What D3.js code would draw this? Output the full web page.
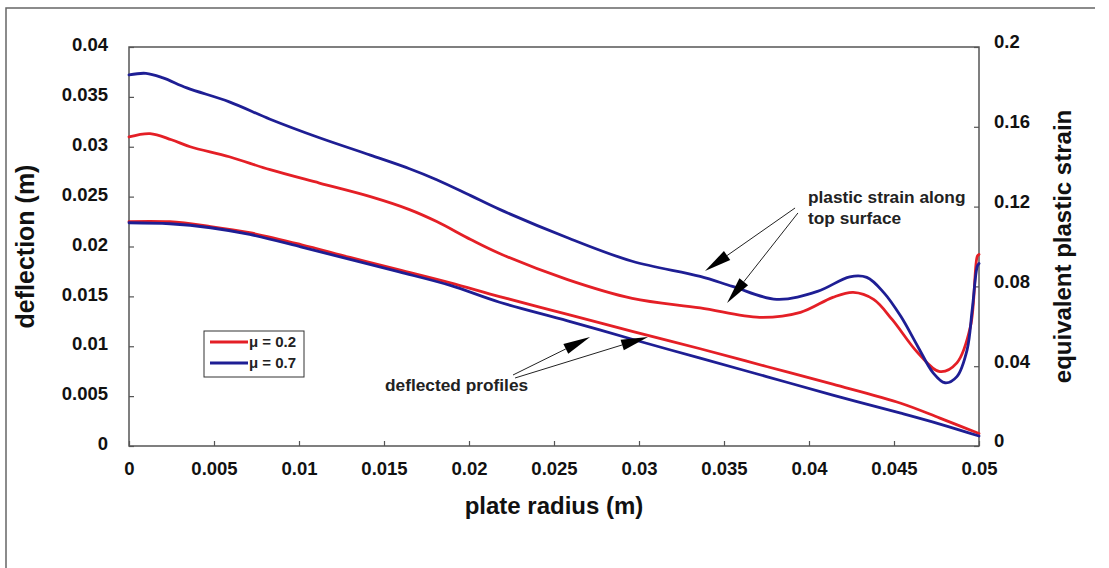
<!DOCTYPE html>
<html>
<head>
<meta charset="utf-8">
<script src="https://cdn.jsdelivr.net/npm/d3@7"></script>
<style>
  html, body { margin: 0; padding: 0; background: #ffffff; }
  svg { display: block; font-family: "Liberation Sans", Arial, Helvetica, sans-serif; }
</style>
</head>
<body>
<svg id="chart" width="1109" height="568"></svg>
<script>
// ---------------- data ----------------
const seriesNames = ["μ = 0.2", "μ = 0.7"];
const seriesColors = ["#e41f26", "#1e1e94"];

// deflected profiles (left axis, m) : [plate radius (m), deflection (m)]
const deflectionMu02 = [
  [0, 0.0225], [0.0024, 0.02248], [0.0048, 0.0220], [0.0071, 0.02138], [0.0101, 0.0202],
  [0.013, 0.0189], [0.0159, 0.01765], [0.0189, 0.01635], [0.0218, 0.01498], [0.0258, 0.0132],
  [0.0296, 0.0115], [0.0336, 0.00975], [0.0375, 0.00797], [0.0414, 0.0062], [0.0454, 0.00429],
  [0.0477, 0.0028], [0.05, 0.00125]
];
const deflectionMu07 = [
  [0, 0.02238], [0.0024, 0.02228], [0.0048, 0.02188], [0.0071, 0.02121], [0.0101, 0.01997],
  [0.013, 0.0187], [0.0159, 0.01745], [0.0189, 0.0161], [0.0218, 0.01441], [0.0258, 0.01255],
  [0.0296, 0.0107], [0.0336, 0.0088], [0.0375, 0.00696], [0.0414, 0.0051], [0.0454, 0.00329],
  [0.0477, 0.0022], [0.05, 0.0010]
];

// equivalent plastic strain along top surface (right axis) : [plate radius (m), strain]
const strainMu02 = [
  [0, 0.1549], [0.00124, 0.1566], [0.0025, 0.1535], [0.0036, 0.1500], [0.0059, 0.1450],
  [0.0083, 0.1385], [0.0112, 0.1318], [0.0142, 0.1250], [0.0165, 0.1185], [0.0181, 0.1125],
  [0.0201, 0.1035], [0.0218, 0.0965], [0.0258, 0.0834], [0.0296, 0.0740], [0.0336, 0.0692],
  [0.0371, 0.0645], [0.0395, 0.0670], [0.0414, 0.0745], [0.0426, 0.0770], [0.0438, 0.0735],
  [0.0449, 0.0633], [0.0464, 0.0467], [0.0477, 0.0373], [0.0487, 0.0417], [0.0495, 0.060],
  [0.0499, 0.0951], [0.05, 0.096]
];
const strainMu07 = [
  [0, 0.186], [0.001, 0.1868], [0.002, 0.1845], [0.0034, 0.1795], [0.0059, 0.1725],
  [0.0083, 0.1638], [0.0112, 0.1545], [0.0142, 0.1458], [0.0165, 0.139], [0.0181, 0.1335],
  [0.0201, 0.1255], [0.0218, 0.1186], [0.0258, 0.1044], [0.0296, 0.0926], [0.0336, 0.0850],
  [0.0355, 0.0800], [0.0381, 0.0735], [0.0405, 0.0775], [0.0424, 0.0848], [0.0434, 0.0845],
  [0.0444, 0.0769], [0.0454, 0.065], [0.0464, 0.0499], [0.0473, 0.0367], [0.048, 0.0317],
  [0.0487, 0.0348], [0.0493, 0.0482], [0.0496, 0.0683], [0.0499, 0.0901], [0.05, 0.0915]
];

// ticks
const xTicks = [0, 0.005, 0.01, 0.015, 0.02, 0.025, 0.03, 0.035, 0.04, 0.045, 0.05];
const xTickLabels = ["0", "0.005", "0.01", "0.015", "0.02", "0.025", "0.03", "0.035", "0.04", "0.045", "0.05"];
const yLeftTicks = [0, 0.005, 0.01, 0.015, 0.02, 0.025, 0.03, 0.035, 0.04];
const yLeftTickLabels = ["0", "0.005", "0.01", "0.015", "0.02", "0.025", "0.03", "0.035", "0.04"];
const yRightTicks = [0, 0.04, 0.08, 0.12, 0.16, 0.2];
const yRightTickLabels = ["0", "0.04", "0.08", "0.12", "0.16", "0.2"];

// titles and annotations
const xTitle = "plate radius (m)";
const yLeftTitle = "deflection (m)";
const yRightTitle = "equivalent plastic strain";
const strainNoteLines = ["plastic strain along", "top surface"];
const strainNoteAnchor = [0.03994, 0.1218];           // radius, strain
const strainArrows = [                                  // [from, to] in radius/strain
  [[0.03918, 0.1193], [0.03388, 0.0877]],
  [[0.03935, 0.1168], [0.03518, 0.0717]]
];
const deflNote = "deflected profiles";
const deflNoteAnchor = [0.01506, 0.00551];            // radius, deflection
const deflArrows = [                                    // [from, to] in radius/deflection
  [[0.02259, 0.00712], [0.02712, 0.01093]],
  [[0.02271, 0.00682], [0.03053, 0.01093]]
];

// ---------------- drawing ----------------
const svg = d3.select("#chart");
const plot = { left: 129, right: 979, top: 47, bottom: 446 };

const x = d3.scaleLinear().domain([0, 0.05]).range([plot.left, plot.right]);
const yL = d3.scaleLinear().domain([0, 0.04]).range([plot.bottom, plot.top]);
const yR = d3.scaleLinear().domain([0, 0.2]).range([plot.bottom, plot.top]);

// outer frame (left and top edges visible)
svg.append("path")
  .attr("d", "M6,568 L6,8 L1095,8")
  .attr("fill", "none").attr("stroke", "#666").attr("stroke-width", 1.5);

// plot box
svg.append("rect")
  .attr("x", plot.left).attr("y", plot.top)
  .attr("width", plot.right - plot.left).attr("height", plot.bottom - plot.top)
  .attr("fill", "none").attr("stroke", "#555").attr("stroke-width", 1.5);

const tickFont = 18.5;

const gx = svg.append("g").attr("transform", `translate(0,${plot.bottom})`)
  .call(d3.axisBottom(x).tickValues(xTicks).tickFormat((d, i) => xTickLabels[i])
    .tickSizeInner(-5).tickSizeOuter(0).tickPadding(16));
const gyl = svg.append("g").attr("transform", `translate(${plot.left},0)`)
  .call(d3.axisLeft(yL).tickValues(yLeftTicks).tickFormat((d, i) => yLeftTickLabels[i])
    .tickSizeInner(-5).tickSizeOuter(0).tickPadding(21));
const gyr = svg.append("g").attr("transform", `translate(${plot.right},0)`)
  .call(d3.axisRight(yR).tickValues(yRightTicks).tickFormat((d, i) => yRightTickLabels[i])
    .tickSizeInner(-5).tickSizeOuter(0).tickPadding(15));

[gx, gyl, gyr].forEach(g => {
  g.select(".domain").remove();
  g.selectAll(".tick line").attr("stroke", "#555").attr("stroke-width", 1.2);
  g.selectAll(".tick text")
    .attr("fill", "#111").attr("font-size", tickFont).attr("font-weight", "bold")
    .attr("font-family", "'Liberation Sans', Arial, sans-serif");
});
gyl.selectAll(".tick text").attr("dy", "0.2em");
gyr.selectAll(".tick text").attr("dy", "0.05em");

// axis titles
svg.append("text")
  .attr("x", (plot.left + plot.right) / 2).attr("y", 514)
  .attr("text-anchor", "middle").attr("font-size", 24).attr("font-weight", "bold")
  .attr("fill", "#111").text(xTitle);
svg.append("text")
  .attr("transform", `translate(34,${(plot.top + plot.bottom) / 2}) rotate(-90)`)
  .attr("text-anchor", "middle").attr("font-size", 25).attr("font-weight", "bold")
  .attr("fill", "#111").text(yLeftTitle);
svg.append("text")
  .attr("transform", `translate(1071,${(plot.top + plot.bottom) / 2}) rotate(-90)`)
  .attr("text-anchor", "middle").attr("font-size", 24).attr("font-weight", "bold")
  .attr("fill", "#111").text(yRightTitle);

// series lines
const lineL = d3.line().x(d => x(d[0])).y(d => yL(d[1])).curve(d3.curveCatmullRom.alpha(0.5));
const lineR = d3.line().x(d => x(d[0])).y(d => yR(d[1])).curve(d3.curveCatmullRom.alpha(0.5));

const curves = [
  { data: deflectionMu02, line: lineL, color: seriesColors[0] },
  { data: deflectionMu07, line: lineL, color: seriesColors[1] },
  { data: strainMu02, line: lineR, color: seriesColors[0] },
  { data: strainMu07, line: lineR, color: seriesColors[1] }
];
svg.append("g").selectAll("path").data(curves).join("path")
  .attr("d", c => c.line(c.data))
  .attr("fill", "none").attr("stroke", c => c.color)
  .attr("stroke-width", 2.8).attr("stroke-linejoin", "round").attr("stroke-linecap", "round");

// annotations
function arrow(g, p0, p1) {
  const dx = p1[0] - p0[0], dy = p1[1] - p0[1];
  const len = Math.hypot(dx, dy);
  const ux = dx / len, uy = dy / len;
  const headLen = 27, halfW = 5.5;
  const bx = p1[0] - ux * headLen, by = p1[1] - uy * headLen;
  g.append("line").attr("x1", p0[0]).attr("y1", p0[1]).attr("x2", bx).attr("y2", by)
    .attr("stroke", "#222").attr("stroke-width", 1);
  g.append("polygon")
    .attr("points", [
      [p1[0], p1[1]],
      [bx - uy * halfW, by + ux * halfW],
      [bx + uy * halfW, by - ux * halfW]
    ].map(p => p.join(",")).join(" "))
    .attr("fill", "#000");
}
const ann = svg.append("g");
strainArrows.forEach(a => arrow(ann, [x(a[0][0]), yR(a[0][1])], [x(a[1][0]), yR(a[1][1])]));
deflArrows.forEach(a => arrow(ann, [x(a[0][0]), yL(a[0][1])], [x(a[1][0]), yL(a[1][1])]));

const noteFont = 17.3;
strainNoteLines.forEach((t, i) => {
  ann.append("text")
    .attr("x", x(strainNoteAnchor[0])).attr("y", yR(strainNoteAnchor[1]) + i * 21)
    .attr("font-size", noteFont).attr("font-weight", "bold").attr("fill", "#222").text(t);
});
ann.append("text")
  .attr("x", x(deflNoteAnchor[0])).attr("y", yL(deflNoteAnchor[1]))
  .attr("font-size", noteFont).attr("font-weight", "bold").attr("fill", "#222").text(deflNote);

// legend
const legend = svg.append("g").attr("transform", "translate(204,331)");
legend.append("rect").attr("width", 100).attr("height", 46)
  .attr("fill", "#fff").attr("stroke", "#333").attr("stroke-width", 1);
seriesNames.forEach((name, i) => {
  const yy = 11 + i * 21;
  legend.append("line").attr("x1", 6).attr("x2", 44).attr("y1", yy).attr("y2", yy)
    .attr("stroke", seriesColors[i]).attr("stroke-width", 3);
  legend.append("text").attr("x", 45).attr("y", yy).attr("dy", "0.35em")
    .attr("font-size", 15).attr("font-weight", "bold").attr("fill", "#222").text(name);
});
</script>
</body>
</html>
